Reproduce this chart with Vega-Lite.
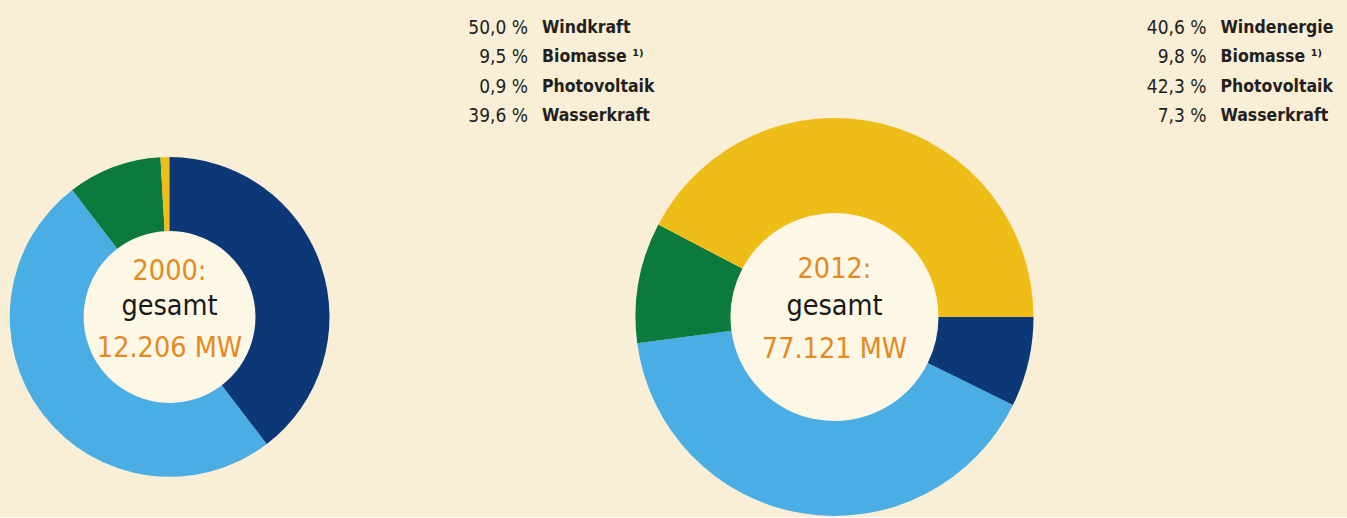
{
  "$schema": "https://vega.github.io/schema/vega-lite/v6.json",
  "background": "#f9efd6",
  "padding": 0,
  "config": {
    "view": {"stroke": null},
    "font": "DejaVu Sans Condensed, Liberation Sans Narrow, sans-serif"
  },
  "datasets": {
    "shares": [
      {"year": "2000", "category": "Wind", "source": "Windkraft", "share": 50.0, "shareLabel": "50,0 %", "stackOrder": 2},
      {"year": "2000", "category": "Biomasse", "source": "Biomasse ¹⁾", "share": 9.5, "shareLabel": "9,5 %", "stackOrder": 3},
      {"year": "2000", "category": "Photovoltaik", "source": "Photovoltaik", "share": 0.9, "shareLabel": "0,9 %", "stackOrder": 4},
      {"year": "2000", "category": "Wasser", "source": "Wasserkraft", "share": 39.6, "shareLabel": "39,6 %", "stackOrder": 1},
      {"year": "2012", "category": "Wind", "source": "Windenergie", "share": 40.6, "shareLabel": "40,6 %", "stackOrder": 2},
      {"year": "2012", "category": "Biomasse", "source": "Biomasse ¹⁾", "share": 9.8, "shareLabel": "9,8 %", "stackOrder": 3},
      {"year": "2012", "category": "Photovoltaik", "source": "Photovoltaik", "share": 42.3, "shareLabel": "42,3 %", "stackOrder": 4},
      {"year": "2012", "category": "Wasser", "source": "Wasserkraft", "share": 7.3, "shareLabel": "7,3 %", "stackOrder": 1}
    ],
    "totals": [
      {"year": "2000", "yearLabel": "2000:", "caption": "gesamt", "totalLabel": "12.206 MW"},
      {"year": "2012", "yearLabel": "2012:", "caption": "gesamt", "totalLabel": "77.121 MW"}
    ]
  },
  "spacing": 0,
  "bounds": "flush",
  "vconcat": [
    {
      "width": 1347,
      "height": 117,
      "data": {"name": "shares"},
      "encoding": {
        "x": {"field": "year", "type": "nominal", "axis": null,
              "scale": {"type": "point", "padding": 0.49263, "align": 0.8003}},
        "y": {"field": "category", "type": "nominal", "axis": null,
              "scale": {"type": "point", "domain": ["Wind", "Biomasse", "Photovoltaik", "Wasser"], "padding": 0.483, "align": 0.965}}
      },
      "layer": [
        {"mark": {"type": "text", "align": "right", "baseline": "middle", "dx": -7, "fontSize": 19, "color": "#231f20"},
         "encoding": {"text": {"field": "shareLabel"}}},
        {"mark": {"type": "text", "align": "left", "baseline": "middle", "dx": 7, "fontSize": 17.5, "fontWeight": "bold", "color": "#231f20"},
         "encoding": {"text": {"field": "source"}}}
      ]
    },
    {
      "hconcat": [
        {
          "width": 339,
          "height": 400,
          "layer": [
            {"data": {"name": "totals"}, "transform": [{"filter": "datum.year === '2000'"}],
             "mark": {"type": "arc", "radius": 86, "theta": 0, "theta2": 6.2832, "color": "#fdf7e6"}, "encoding": {}},
            {"data": {"name": "shares"}, "transform": [{"filter": "datum.year === '2000'"}],
             "mark": {"type": "arc", "radius": 160, "innerRadius": 86},
             "encoding": {
               "theta": {"field": "share", "type": "quantitative", "stack": true},
               "order": {"field": "stackOrder", "type": "quantitative"},
               "color": {"field": "category", "type": "nominal", "legend": null,
                         "scale": {"domain": ["Wasser", "Wind", "Biomasse", "Photovoltaik"], "range": ["#0c3877", "#4aaee4", "#0b7a3c", "#efbd17"]}}
             }},
            {"data": {"name": "totals"}, "transform": [{"filter": "datum.year === '2000'"}],
             "mark": {"type": "text", "align": "center", "baseline": "alphabetic", "dy": -37, "fontSize": 28.5, "color": "#e38a22"},
             "encoding": {"text": {"field": "yearLabel"}}},
            {"data": {"name": "totals"}, "transform": [{"filter": "datum.year === '2000'"}],
             "mark": {"type": "text", "align": "center", "baseline": "alphabetic", "dy": -2, "fontSize": 28.5, "color": "#1a1a1a"},
             "encoding": {"text": {"field": "caption"}}},
            {"data": {"name": "totals"}, "transform": [{"filter": "datum.year === '2000'"}],
             "mark": {"type": "text", "align": "center", "baseline": "alphabetic", "dy": 40, "fontSize": 28.5, "color": "#e38a22"},
             "encoding": {"text": {"field": "totalLabel"}}}
          ]
        },
        {
          "width": 400,
          "height": 400,
          "layer": [
            {"data": {"name": "totals"}, "transform": [{"filter": "datum.year === '2012'"}],
             "mark": {"type": "arc", "radius": 104, "theta": 0, "theta2": 6.2832, "color": "#fdf7e6"}, "encoding": {}},
            {"data": {"name": "shares"}, "transform": [{"filter": "datum.year === '2012'"}],
             "mark": {"type": "arc", "radius": 199, "innerRadius": 104},
             "encoding": {
               "theta": {"field": "share", "type": "quantitative", "stack": true, "scale": {"range": [1.5708, 7.854]}},
               "order": {"field": "stackOrder", "type": "quantitative"},
               "color": {"field": "category", "type": "nominal", "legend": null,
                         "scale": {"domain": ["Wasser", "Wind", "Biomasse", "Photovoltaik"], "range": ["#0c3877", "#4aaee4", "#0b7a3c", "#efbd17"]}}
             }},
            {"data": {"name": "totals"}, "transform": [{"filter": "datum.year === '2012'"}],
             "mark": {"type": "text", "align": "center", "baseline": "alphabetic", "dy": -39, "fontSize": 28.5, "color": "#e38a22"},
             "encoding": {"text": {"field": "yearLabel"}}},
            {"data": {"name": "totals"}, "transform": [{"filter": "datum.year === '2012'"}],
             "mark": {"type": "text", "align": "center", "baseline": "alphabetic", "dy": -2, "fontSize": 28.5, "color": "#1a1a1a"},
             "encoding": {"text": {"field": "caption"}}},
            {"data": {"name": "totals"}, "transform": [{"filter": "datum.year === '2012'"}],
             "mark": {"type": "text", "align": "center", "baseline": "alphabetic", "dy": 41, "fontSize": 28.5, "color": "#e38a22"},
             "encoding": {"text": {"field": "totalLabel"}}}
          ]
        }
      ],
      "spacing": 295.5,
      "bounds": "flush",
      "resolve": {"scale": {"theta": "independent"}}
    }
  ]
}
